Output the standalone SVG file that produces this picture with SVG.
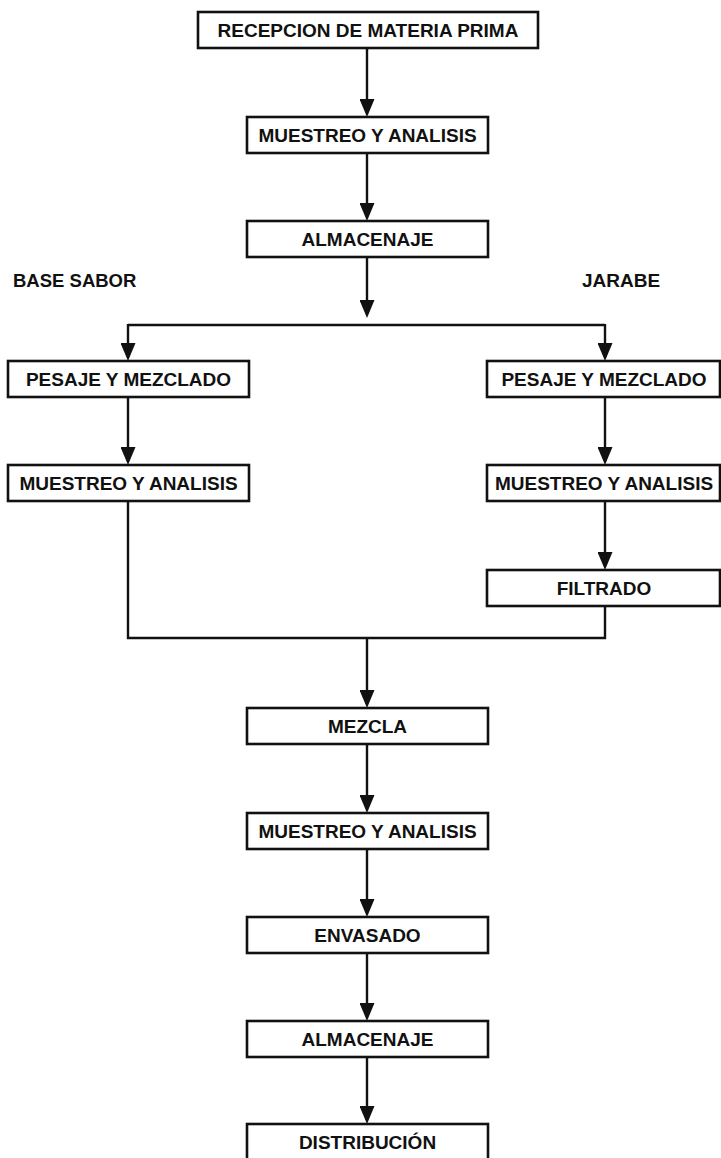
<svg xmlns="http://www.w3.org/2000/svg" width="721" height="1158" viewBox="0 0 721 1158">
<style>
.box{fill:#fff;stroke:#111;stroke-width:2.6}
.lbl{font-family:"Liberation Sans",Arial,sans-serif;font-weight:bold;font-size:19px;fill:#111;text-anchor:middle}
.side{font-family:"Liberation Sans",Arial,sans-serif;font-weight:bold;font-size:18.5px;fill:#111}
.con{fill:none;stroke:#111;stroke-width:2.4}
</style>
<defs>
<marker id="ah" viewBox="0 0 18 15" refX="14" refY="7.5" markerWidth="18" markerHeight="15" markerUnits="userSpaceOnUse" orient="auto">
<path d="M0,0 L18,7.5 L0,15 z" fill="#111"/>
</marker>
</defs>
<rect width="721" height="1158" fill="#fff"/>
<g id="connectors">
<path class="con" d="M367 48 V113" marker-end="url(#ah)"/>
<path class="con" d="M367 153 V217" marker-end="url(#ah)"/>
<path class="con" d="M367 257 V314" marker-end="url(#ah)"/>
<path class="con" d="M128 325 H605"/>
<path class="con" d="M128 324 V357" marker-end="url(#ah)"/>
<path class="con" d="M605 324 V357" marker-end="url(#ah)"/>
<path class="con" d="M128 397 V461" marker-end="url(#ah)"/>
<path class="con" d="M605 397 V461" marker-end="url(#ah)"/>
<path class="con" d="M605 501 V566" marker-end="url(#ah)"/>
<path class="con" d="M128 501 V638 H605 V606"/>
<path class="con" d="M367 638 V704" marker-end="url(#ah)"/>
<path class="con" d="M367 744 V809" marker-end="url(#ah)"/>
<path class="con" d="M367 849 V913" marker-end="url(#ah)"/>
<path class="con" d="M367 953 V1017" marker-end="url(#ah)"/>
<path class="con" d="M367 1057 V1120" marker-end="url(#ah)"/>
</g>
<g id="lbl-base-sabor"><text class="side" x="13" y="287">BASE SABOR</text></g>
<g id="lbl-jarabe"><text class="lbl" x="621" y="287">JARABE</text></g>
<g id="n-recepcion"><rect class="box" x="198" y="12" width="340" height="36"/><text class="lbl" x="368" y="36.5">RECEPCION DE MATERIA PRIMA</text></g>
<g id="n-muestreo1"><rect class="box" x="247" y="117" width="241" height="36"/><text class="lbl" x="367.5" y="141.5">MUESTREO Y ANALISIS</text></g>
<g id="n-almacenaje1"><rect class="box" x="247" y="221" width="241" height="36"/><text class="lbl" x="367.5" y="245.5">ALMACENAJE</text></g>
<g id="n-pesaje-l"><rect class="box" x="8" y="361" width="241" height="36"/><text class="lbl" x="128.5" y="385.5">PESAJE Y MEZCLADO</text></g>
<g id="n-pesaje-r"><rect class="box" x="487" y="361" width="233" height="36"/><text class="lbl" x="604" y="385.5">PESAJE Y MEZCLADO</text></g>
<g id="n-muestreo-l"><rect class="box" x="8" y="465" width="241" height="36"/><text class="lbl" x="128.5" y="489.5">MUESTREO Y ANALISIS</text></g>
<g id="n-muestreo-r"><rect class="box" x="487" y="465" width="233" height="36"/><text class="lbl" x="604" y="489.5">MUESTREO Y ANALISIS</text></g>
<g id="n-filtrado"><rect class="box" x="487" y="570" width="233" height="36"/><text class="lbl" x="604" y="594.5">FILTRADO</text></g>
<g id="n-mezcla"><rect class="box" x="247" y="708" width="241" height="36"/><text class="lbl" x="367.5" y="732.5">MEZCLA</text></g>
<g id="n-muestreo3"><rect class="box" x="247" y="813" width="241" height="36"/><text class="lbl" x="367.5" y="837.5">MUESTREO Y ANALISIS</text></g>
<g id="n-envasado"><rect class="box" x="247" y="917" width="241" height="36"/><text class="lbl" x="367.5" y="941.5">ENVASADO</text></g>
<g id="n-almacenaje2"><rect class="box" x="247" y="1021" width="241" height="36"/><text class="lbl" x="367.5" y="1045.5">ALMACENAJE</text></g>
<g id="n-distribucion"><rect class="box" x="247" y="1124" width="241" height="44"/><text class="lbl" x="367.5" y="1148.5">DISTRIBUCIÓN</text></g>
</svg>
